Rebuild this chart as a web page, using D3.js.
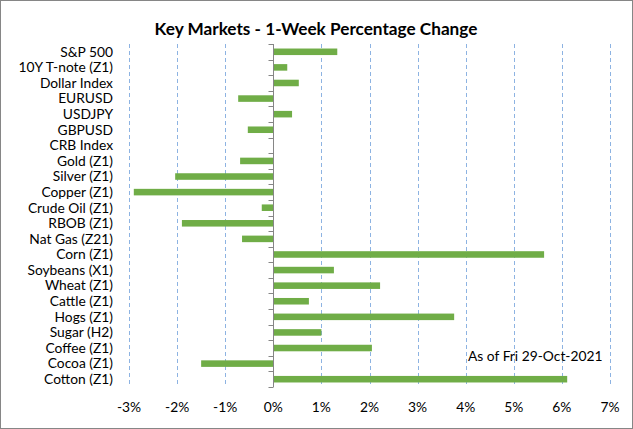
<!DOCTYPE html>
<html>
<head>
<meta charset="utf-8">
<script src="https://cdn.jsdelivr.net/npm/d3@7"></script>
<style>
body { margin: 0; background: #fff; }
text { font-family: Lato, "Open Sans", sans-serif; fill: #000; }
</style>
</head>
<body>
<div id="chart"></div>
<script>
// markets, top to bottom
var markets = ["S&P 500", "10Y T-note (Z1)", "Dollar Index", "EURUSD", "USDJPY", "GBPUSD",
  "CRB Index", "Gold (Z1)", "Silver (Z1)", "Copper (Z1)", "Crude Oil (Z1)", "RBOB (Z1)",
  "Nat Gas (Z21)", "Corn (Z1)", "Soybeans (X1)", "Wheat (Z1)", "Cattle (Z1)", "Hogs (Z1)",
  "Sugar (H2)", "Coffee (Z1)", "Cocoa (Z1)", "Cotton (Z1)"];
// 1-week change, percent
var changes = [1.33, 0.29, 0.53, -0.73, 0.39, -0.53,
  0, -0.69, -2.04, -2.90, -0.24, -1.90,
  -0.65, 5.63, 1.26, 2.22, 0.74, 3.76,
  1.00, 2.05, -1.50, 6.11];
var ticks = [-3, -2, -1, 0, 1, 2, 3, 4, 5, 6, 7];

var W = 633, H = 429;
var margin = {top: 44, right: 23, bottom: 42, left: 129},
width = W - margin.left - margin.right,
height = H - margin.top - margin.bottom;

var root = d3.select("#chart")
.append("svg")
.attr("width", W)
.attr("height", H);

// chart border
root.append("rect")
.attr("x", 0.5).attr("y", 0.5)
.attr("width", W - 1).attr("height", H - 1)
.attr("fill", "#fff")
.attr("stroke", "#868686");

root.append("text")
.attr("x", 316)
.attr("y", 35)
.attr("text-anchor", "middle")
.style("font-size", "17.2px")
.style("font-weight", "bold")
.text("Key Markets - 1-Week Percentage Change");

var svg = root.append("g")
.attr("transform", "translate(" + margin.left + "," + margin.top + ")");

var x = d3.scaleLinear()
.domain([-3, 7])
.range([0, width]);

var y = d3.scaleBand()
.domain(markets)
.range([0, height])
.paddingInner(0.58)
.paddingOuter(0.29);

// dashed grid
svg.append("g")
.selectAll("line")
.data(ticks.filter(function (t) { return t !== 0; }))
.enter()
.append("line")
  .attr("x1", function (d) { return Math.round(x(d)) + 0.5; })
  .attr("x2", function (d) { return Math.round(x(d)) + 0.5; })
  .attr("y1", 0)
  .attr("y2", height)
  .attr("stroke", "#8db3e2")
  .attr("stroke-dasharray", "4,3");

// x tick labels
svg.append("g")
.selectAll("text")
.data(ticks)
.enter()
.append("text")
  .attr("x", function (d) { return x(d); })
  .attr("y", height + 25)
  .attr("text-anchor", "middle")
  .style("font-size", "13.8px")
  .text(function (d) { return d + "%"; });

// bars
svg.append("g")
.selectAll("rect")
.data(changes)
.enter()
.append("rect")
  .attr("x", function (d) { return x(Math.min(0, d)); })
  .attr("y", function (d, i) { return y(markets[i]); })
  .attr("width", function (d) { return Math.abs(x(d) - x(0)); })
  .attr("height", y.bandwidth())
  .style("fill", "#70ad47");

// zero axis with ticks on the left side
var x0 = Math.round(x(0)) + 0.5;
svg.append("line")
.attr("x1", x0).attr("x2", x0)
.attr("y1", 0).attr("y2", height)
.attr("stroke", "#868686");

var step = height / markets.length;
svg.append("g")
.selectAll("line")
.data(d3.range(markets.length + 1))
.enter()
.append("line")
  .attr("x1", x0 - 5)
  .attr("x2", x0)
  .attr("y1", function (d) { return Math.round(d * step) + 0.5; })
  .attr("y2", function (d) { return Math.round(d * step) + 0.5; })
  .attr("stroke", "#868686");

// category labels
svg.append("g")
.selectAll("text")
.data(markets)
.enter()
.append("text")
  .attr("x", -16)
  .attr("y", function (d) { return y(d) + y.bandwidth() / 2; })
  .attr("dy", "0.35em")
  .attr("text-anchor", "end")
  .style("font-size", "13.8px")
  .text(function (d) { return d; });

root.append("text")
.attr("x", 468)
.attr("y", 361)
.style("font-size", "13.8px")
.text("As of Fri 29-Oct-2021");
</script>
</body>
</html>
